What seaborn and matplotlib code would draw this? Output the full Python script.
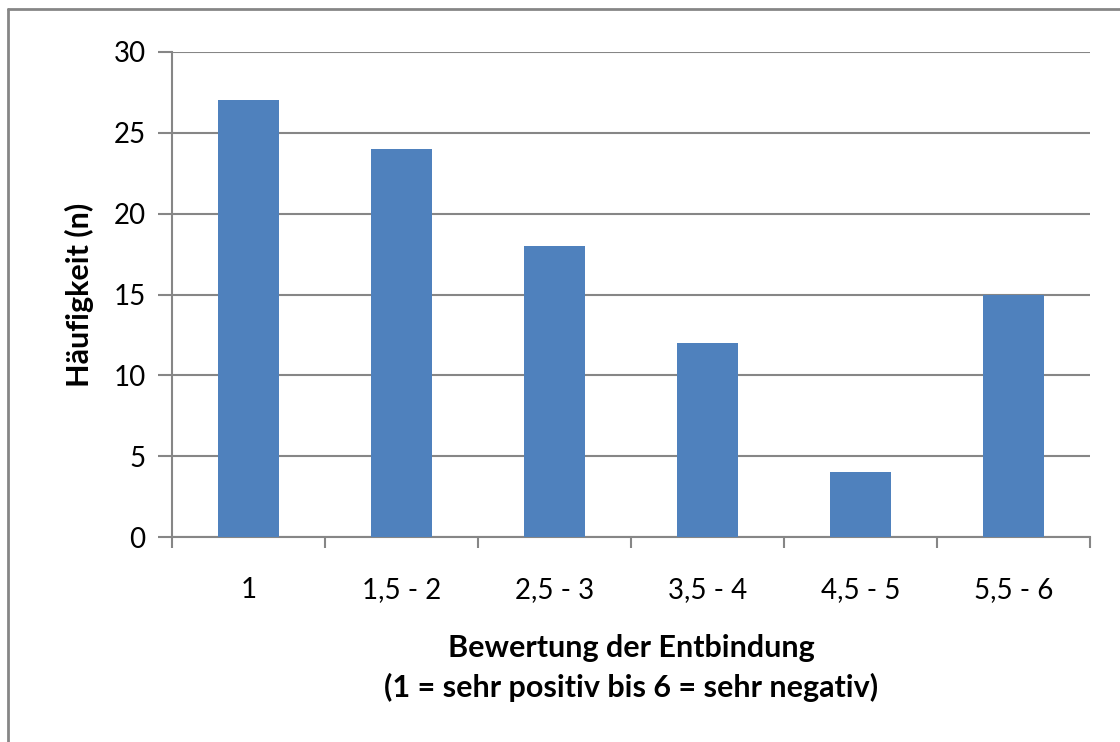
import matplotlib
matplotlib.use("Agg")
import matplotlib.pyplot as plt
from matplotlib.lines import Line2D
import numpy as np
import pandas as pd
import seaborn as sns

# Ratings of the delivery experience and their frequencies
categories = ["1", "1,5 - 2", "2,5 - 3", "3,5 - 4", "4,5 - 5", "5,5 - 6"]
counts = [27, 24, 18, 12, 4, 15]
y_ticks = [0, 5, 10, 15, 20, 25, 30]

df = pd.DataFrame({"Bewertung": categories, "Anzahl": counts})

sns.set_theme(style="white")
plt.rcParams["font.family"] = ["Lato", "DejaVu Sans"]

grey = "#868686"
bar_color = "#4F81BD"

fig = plt.figure(figsize=(11.2, 7.42), dpi=100)
ax = fig.add_axes([172 / 1120, 1 - 537 / 742, (1090 - 172) / 1120, (537 - 52) / 742])

sns.barplot(data=df, x="Bewertung", y="Anzahl", color=bar_color,
            saturation=1, width=0.4, linewidth=0, ax=ax, zorder=3)

ax.set_xlim(-0.5, len(categories) - 0.5)
ax.set_ylim(0, 30)
ax.set_yticks(y_ticks)
ax.yaxis.grid(True, color=grey, linewidth=1.5, zorder=0)
ax.set_axisbelow(True)

for side in ["top", "right"]:
    ax.spines[side].set_visible(False)
for side in ["left", "bottom"]:
    ax.spines[side].set_color(grey)
    ax.spines[side].set_linewidth(1.5)

ax.tick_params(axis="y", which="major", direction="out", length=10, width=1.5,
               color=grey, labelsize=20, pad=9, left=True, labelcolor="black")
ax.tick_params(axis="x", which="major", length=0, labelsize=20, pad=29,
               labelcolor="black")
ax.set_xticks(np.arange(-0.5, len(categories), 1.0), minor=True)
ax.tick_params(axis="x", which="minor", direction="out", length=8, width=1.5,
               color=grey, bottom=True)

ax.set_ylabel("Häufigkeit (n)", fontsize=22, fontweight="bold", labelpad=14,
              color="black")
ax.set_xlabel("Bewertung der Entbindung\n(1 = sehr positiv bis 6 = sehr negativ)",
              fontsize=22, fontweight="bold", labelpad=22, linespacing=1.45,
              color="black")

# Chart frame (left and top edges)
fig.add_artist(Line2D([7.5 / 1120, 7.5 / 1120], [0, 1 - 8.5 / 742],
                      transform=fig.transFigure, color=grey, linewidth=2))
fig.add_artist(Line2D([7.5 / 1120, 1], [1 - 8.5 / 742, 1 - 8.5 / 742],
                      transform=fig.transFigure, color=grey, linewidth=2))

fig.savefig("out.png", dpi=100, facecolor="white")
